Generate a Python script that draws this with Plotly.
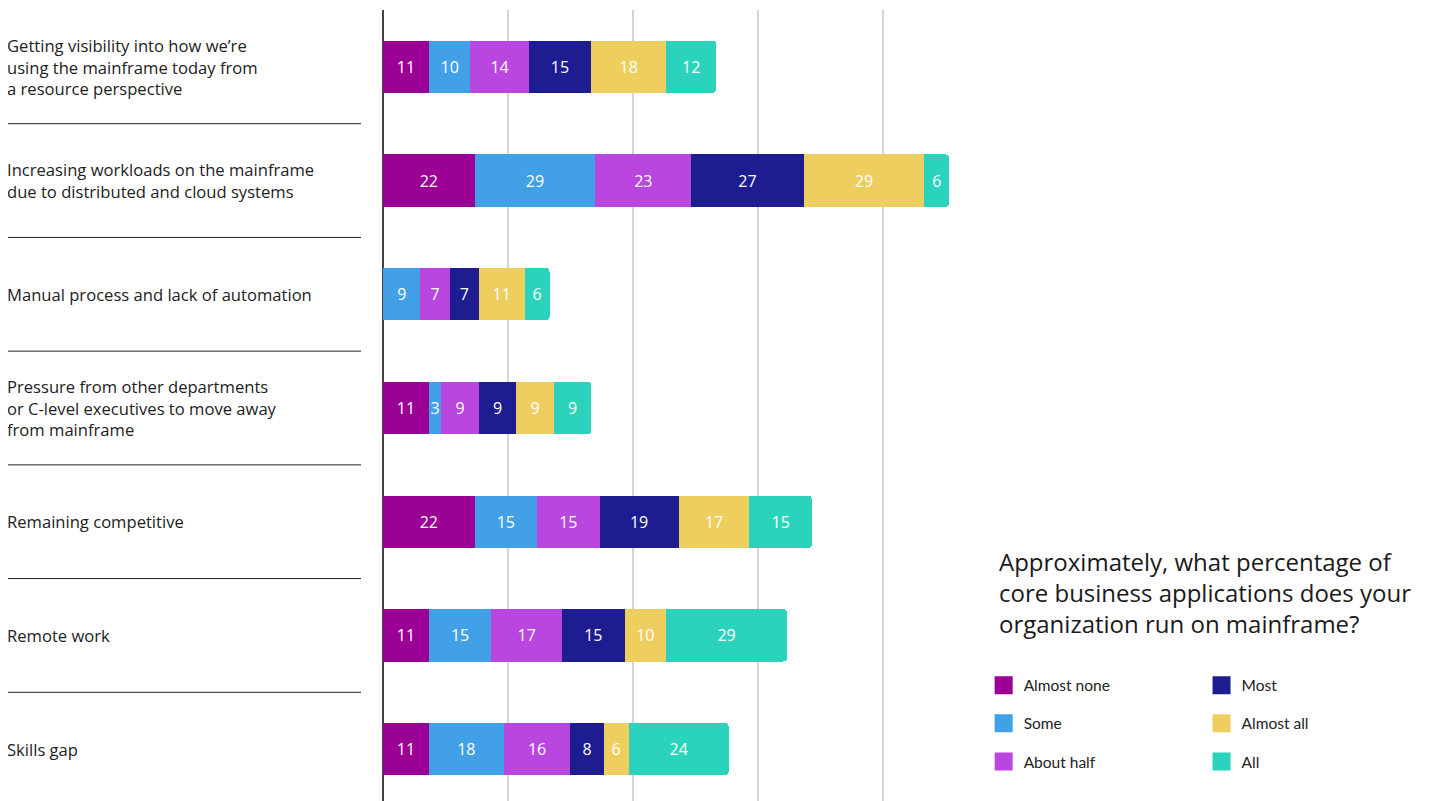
import plotly.graph_objects as go

categories = [
    "Getting visibility into how we’re<br>using the mainframe today from<br>a resource perspective",
    "Increasing workloads on the mainframe<br>due to distributed and cloud systems",
    "Manual process and lack of automation",
    "Pressure from other departments<br>or C-level executives to move away<br>from mainframe",
    "Remaining competitive",
    "Remote work",
    "Skills gap",
]

almost_none = [11, 22, None, 11, 22, 11, 11]
some = [10, 29, 9, 3, 15, 15, 18]
about_half = [14, 23, 7, 9, 15, 17, 16]
most = [15, 27, 7, 9, 19, 15, 8]
almost_all = [18, 29, 11, 9, 17, 10, 6]
all_ = [12, 6, 6, 9, 15, 29, 24]

series = [
    ("Almost none", almost_none, "#9A0094", "legend"),
    ("Some", some, "#42A1E6", "legend"),
    ("About half", about_half, "#B946DF", "legend"),
    ("Most", most, "#1E1C91", "legend2"),
    ("Almost all", almost_all, "#EECE5F", "legend2"),
    ("All", all_, "#2CD3BC", "legend2"),
]

fig = go.Figure()
for name, vals, color, leg in series:
    fig.add_trace(go.Bar(
        y=categories, x=vals, name=name, orientation="h",
        marker=dict(color=color, line=dict(width=0)),
        text=[v if v is not None else "" for v in vals],
        textposition="inside", insidetextanchor="middle",
        textfont=dict(family="Open Sans", size=16, color="white"),
        showlegend=False, legendgroup=name,
        hoverinfo="x+name",
    ))
# legend entries with bigger swatches
for name, vals, color, leg in series:
    fig.add_trace(go.Scatter(
        x=[None], y=[None], mode="markers", name=name,
        marker=dict(symbol="square", size=16, color=color,
                    line=dict(color=color, width=2)),
        legend=leg, legendgroup=name, showlegend=True,
    ))

# left-hand category labels and separators
for cat in categories:
    fig.add_annotation(
        x=0, xref="paper", xshift=-378, xanchor="left",
        y=cat, yref="y", yanchor="middle", showarrow=False, align="left",
        text=cat, font=dict(family="Open Sans", size=16.6, color="#222222"),
    )
for i in range(len(categories) - 1):
    fig.add_shape(
        type="line", xref="paper", yref="y",
        x0=-376 / 583.33, x1=-22 / 583.33, y0=i + 0.5, y1=i + 0.5,
        line=dict(color="#222222", width=1),
    )

fig.add_annotation(
    x=(997 - 383) / 583.33, xref="paper", xanchor="left",
    y=0.330, yref="paper", yanchor="top", showarrow=False, align="left",
    text="Approximately, what percentage of<br>core business applications does your<br>organization run on mainframe?",
    font=dict(family="Open Sans", size=24, color="#1a1a1a"),
)

legend_style = dict(
    font=dict(family="Lato", size=15.5, color="#222222"),
    orientation="v", yanchor="top", xanchor="left",
    bgcolor="rgba(0,0,0,0)", tracegroupgap=15, itemclick=False,
    itemsizing="trace",
)

fig.update_layout(
    width=1429, height=801,
    margin=dict(l=375, r=471, t=2, b=3),
    barmode="stack", bargap=0.54, barcornerradius=4,
    uniformtext=dict(minsize=16, mode="show"),
    plot_bgcolor="white", paper_bgcolor="white",
    showlegend=True,
    legend=dict(x=(984 - 383) / 583.33, y=0.1726, **legend_style),
    legend2=dict(x=(1202 - 383) / 583.33, y=0.1726, **legend_style),
    xaxis=dict(
        range=[0, 140], tickvals=[0, 30, 60, 90, 120], showticklabels=False,
        showgrid=True, gridcolor="#d4d4d4", gridwidth=1.5,
        zeroline=True, zerolinecolor="#444444", zerolinewidth=2,
        fixedrange=True,
    ),
    yaxis=dict(
        categoryorder="array", categoryarray=categories, autorange="reversed",
        showticklabels=False, showgrid=False, zeroline=False, fixedrange=True,
    ),
)

fig.write_html("out.html")
